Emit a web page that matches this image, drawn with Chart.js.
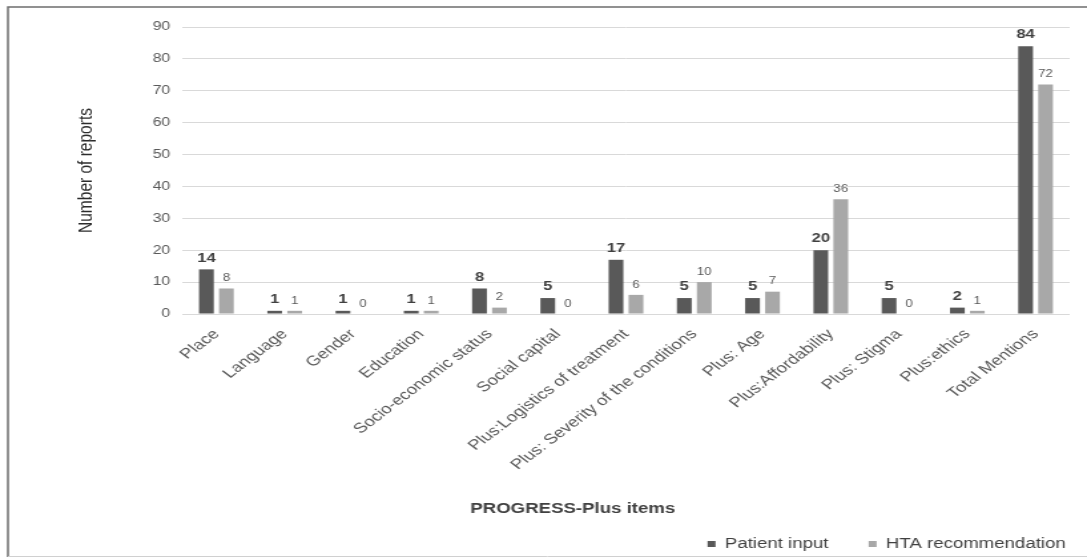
<!DOCTYPE html>
<html>
<head>
<meta charset="utf-8">
<script src="https://cdn.jsdelivr.net/npm/chart.js@4.4.1/dist/chart.umd.min.js"></script>
<style>
  body { margin: 0; background: #fff; }
  /* the original figure is stretched sideways, so the canvas is drawn narrow and widened */
  #myChart { width: 1087px; height: 557px; }
</style>
</head>
<body>
<canvas id="myChart" width="817" height="557" style="width:1087px;height:557px"></canvas>
<script>
const categories = [
  "Place", "Language", "Gender", "Education", "Socio-economic status",
  "Social capital", "Plus:Logistics of treatment", "Plus: Severity of the conditions",
  "Plus: Age", "Plus:Affordability", "Plus: Stigma", "Plus:ethics", "Total Mentions"
];
const patientInput = [14, 1, 1, 1, 8, 5, 17, 5, 5, 20, 5, 2, 84];
const htaRecommendation = [8, 1, 0, 1, 2, 0, 6, 10, 7, 36, 0, 1, 72];
const yTicks = [0, 10, 20, 30, 40, 50, 60, 70, 80, 90];

const FONT = "'Liberation Sans', Arial, sans-serif";
const ctx = document.getElementById("myChart");

// frame round the figure
const framePlugin = {
  id: "frame",
  beforeDraw(chart) {
    const c = chart.ctx;
    c.save();
    c.strokeStyle = "#6e6e6e";
    c.lineWidth = 1.5;
    c.beginPath();
    c.moveTo(6, 557);
    c.lineTo(6, 7);
    c.lineTo(chart.width, 7);
    c.stroke();
    c.strokeStyle = "#d0d0d0";
    c.lineWidth = 1;
    c.beginPath();
    c.moveTo(6, 556.5);
    c.lineTo(chart.width, 556.5);
    c.stroke();
    c.restore();
  }
};

// value labels above the bars
const valueLabels = {
  id: "valueLabels",
  afterDatasetsDraw(chart) {
    const c = chart.ctx;
    chart.data.datasets.forEach((ds, i) => {
      const meta = chart.getDatasetMeta(i);
      c.save();
      c.textAlign = "center";
      c.textBaseline = "bottom";
      if (i === 0) {
        c.font = "bold 12.5px " + FONT;
        c.fillStyle = "#404040";
      } else {
        c.font = "10px " + FONT;
        c.fillStyle = "#595959";
      }
      meta.data.forEach((bar, j) => {
        c.fillText(ds.data[j], bar.x, bar.y - 5);
      });
      c.restore();
    });
  }
};

// x axis title, sits left of centre in the original
const xTitle = {
  id: "xTitle",
  afterDraw(chart) {
    const a = chart.chartArea;
    const c = chart.ctx;
    c.save();
    c.font = "bold 14px " + FONT;
    c.fillStyle = "#404040";
    c.textAlign = "center";
    c.textBaseline = "middle";
    c.fillText("PROGRESS-Plus items", a.left + (a.right - a.left) * 0.44, 509);
    c.restore();
  }
};

const myChart = new Chart(ctx, {
  type: "bar",
  data: {
    labels: categories,
    datasets: [
      {
        label: "Patient input",
        data: patientInput,
        backgroundColor: "#595959",
        categoryPercentage: 0.585,
        barPercentage: 0.74,
      },
      {
        label: "HTA recommendation",
        data: htaRecommendation,
        backgroundColor: "#a8a8a8",
        categoryPercentage: 0.585,
        barPercentage: 0.74,
      },
    ],
  },
  plugins: [framePlugin, valueLabels, xTitle],
  options: {
    responsive: false,
    animation: false,
    layout: { padding: { left: 15, right: 13, top: 27, bottom: -4 } },
    plugins: {
      tooltip: { enabled: false },
      legend: {
        position: "bottom",
        align: "end",
        labels: {
          boxWidth: 6,
          boxHeight: 6,
          padding: 3,
          color: "#404040",
          font: { family: FONT, size: 14 },
          generateLabels(chart) {
            const items = Chart.defaults.plugins.legend.labels.generateLabels(chart);
            items[0].text = items[0].text + "       ";
            return items;
          },
        },
      },
    },
    scales: {
      x: {
        grid: { display: false, drawTicks: false },
        border: { display: false },
        ticks: {
          autoSkip: false,
          minRotation: 45,
          maxRotation: 45,
          padding: 12,
          color: "#595959",
          font: { family: FONT, size: 14 },
        },
        afterFit(scale) {
          scale.height = 220;
        },
      },
      y: {
        min: 0,
        max: 90,
        afterBuildTicks(scale) {
          scale.ticks = yTicks.map((v) => ({ value: v }));
        },
        grid: { color: "#d9d9d9", drawTicks: false },
        border: { display: false },
        ticks: {
          padding: 9,
          color: "#595959",
          font: { family: FONT, size: 12 },
        },
        title: {
          display: true,
          text: "Number of reports",
          color: "#2b2b2b",
          font: { family: FONT, size: 15.5 },
          padding: { top: 40, bottom: 0 },
        },
        afterFit(scale) {
          scale.width = 122;
        },
      },
    },
  },
});
</script>
</body>
</html>
